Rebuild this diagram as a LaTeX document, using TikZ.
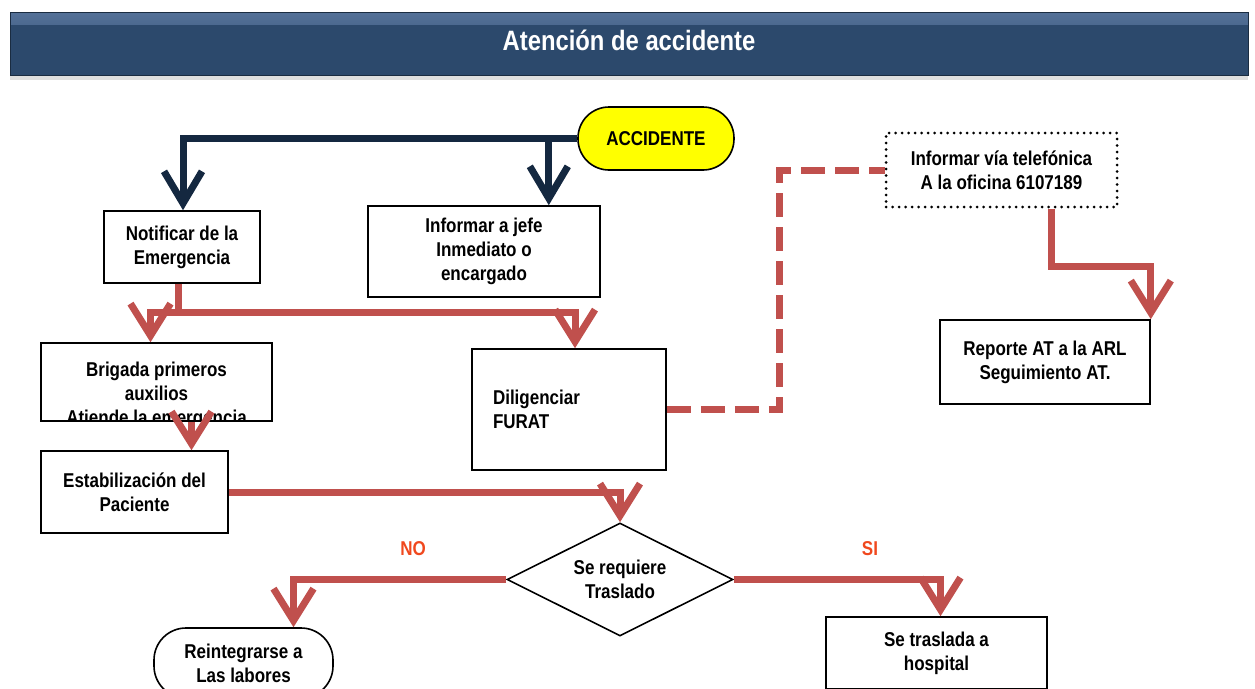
\documentclass[tikz,border=0pt]{standalone}
\usepackage{fontspec}
\setmainfont[FakeStretch=0.85]{Liberation Sans}
\usetikzlibrary{arrows.meta}
\usetikzlibrary{shapes.geometric, shadows}
\definecolor{mynavy}{RGB}{20,40,64}
\definecolor{myred}{RGB}{192,80,77}
\definecolor{myorange}{RGB}{240,72,30}
\definecolor{myyellow}{RGB}{255,255,0}
\definecolor{titlemain}{RGB}{44,73,108}
\definecolor{titletop}{RGB}{84,113,152}

\tikzset{
  box/.style={draw, line width=1.6pt, fill=white, align=center, inner sep=0pt,
    font=\fontsize{20}{24}\selectfont\bfseries},
  boxtext/.style={align=center, inner sep=0pt, font=\fontsize{20}{24}\selectfont\bfseries},
  dotbox/.style={box, dash pattern=on 0pt off 6.5pt, line cap=round, line width=3pt},
  titlebar/.style={fill=titlemain, draw=titlemain!60!black, line width=0.8pt, text=white,
    font=\fontsize{28}{32}\selectfont\bfseries,
    drop shadow={opacity=0.25, shadow xshift=0pt, shadow yshift=-5pt},
    path picture={\fill[top color=titletop, bottom color=titlemain]
      (path picture bounding box.north west) rectangle ([yshift=-12pt]path picture bounding box.north east);}},
  navyarrow/.style={draw=mynavy, line width=7pt, -{Straight Barb[length=32pt, width=38pt]}},
  redarrow/.style={draw=myred, line width=7pt, -{Straight Barb[length=32pt, width=40pt]}},
  reddash/.style={draw=myred, line width=7pt, dash pattern=on 24pt off 10pt},
  lbl/.style={text=myorange, font=\fontsize{20}{24}\selectfont\bfseries}
}

\begin{document}
\begin{tikzpicture}[x=1pt, y=-1pt]
\useasboundingbox (0,0) rectangle (1255,688);
\clip (0,0) rectangle (1255,688);

\node[titlebar, minimum width=1238pt, minimum height=63pt, text depth=6pt] (title) at (629,43.5) {Atención de accidente};

% boxes
\node[box, rounded corners=31pt, fill=myyellow, minimum width=156pt, minimum height=63pt] (accidente) at (656,138.5) {ACCIDENTE};
\node[box, minimum width=156pt, minimum height=72pt] (notificar) at (182,247) {Notificar de la\\Emergencia};
\node[box, minimum width=232pt, minimum height=91pt] (informar) at (484,251.5) {Informar a jefe\\Inmediato o\\encargado};
\node[box, minimum width=231pt, minimum height=78pt] (brigada) at (156.5,382) {};
\begin{scope}
\clip (brigada.north west) rectangle (brigada.south east);
\node[boxtext] (brigadatxt) at (156.5,395) {Brigada primeros\\auxilios\\Atiende la emergencia};
\end{scope}
\node[box, minimum width=187pt, minimum height=82pt] (estab) at (134.5,492) {Estabilización del\\Paciente};
\node[box, align=left, text width=152pt, inner xsep=21pt, minimum height=121pt] (diligenciar) at (569,409.5) {Diligenciar\\FURAT};
\node[dotbox, minimum width=231pt, minimum height=74pt] (telefono) at (1001.5,170) {Informar vía telefónica\\A la oficina 6107189};
\node[box, minimum width=210pt, minimum height=84pt] (reporte) at (1045,362) {Reporte AT a la ARL\\Seguimiento AT.};
\node[box, diamond, aspect=2, minimum width=226pt, minimum height=113pt] (traslado) at (620,579.5) {Se requiere\\Traslado};
\node[box, rounded corners=32pt, minimum width=179pt, minimum height=70pt] (reintegrar) at (243.5,663) {Reintegrarse a\\Las labores};
\node[box, minimum width=221pt, minimum height=72pt] (hospital) at (936.5,653) {Se traslada a\\hospital};

\node[lbl] (no) at (413,549) {NO};
\node[lbl] (si) at (870,549) {SI};

% connectors
\draw[navyarrow] (accidente.west) -| ([xshift=1pt]notificar.north);
\draw[navyarrow] ([xshift=-52pt]informar.north east |- accidente.west) -- ([xshift=-52pt]informar.north east);

\coordinate (split) at (178,312);
\draw[redarrow] ([xshift=-4pt]notificar.south) -- (split) -| ([xshift=6pt]diligenciar.north);
\draw[redarrow] (split) -| ([xshift=-6pt]brigada.north);
\draw[redarrow] ([xshift=35pt]brigada.south) -- ([xshift=35pt]brigada.south |- estab.north);
\draw[redarrow] (estab.east) -| (traslado.north);
\draw[redarrow] (traslado.west) -| ([xshift=50pt]reintegrar.north);
\draw[redarrow] (traslado.east) -| ([xshift=4pt]hospital.north);
\draw[reddash] (diligenciar.east) -- ++(113,0) |- (telefono.west);
\draw[redarrow] ([xshift=50pt]telefono.south) -- ++(0,58) -| (reporte.north east);

\end{tikzpicture}
\end{document}
